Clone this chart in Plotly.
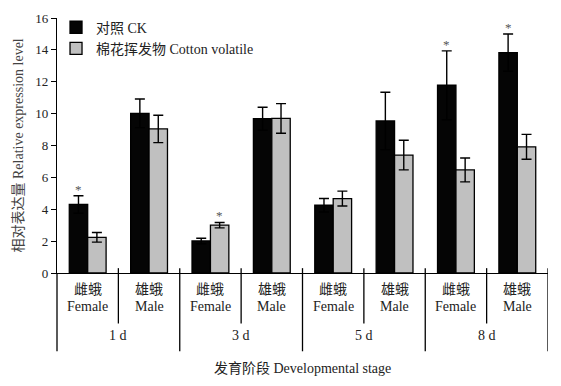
import plotly.graph_objects as go

stages = ["1 d", "3 d", "5 d", "8 d"]
sex_cn = ["雌蛾", "雄蛾"]
sex_en = ["Female", "Male"]
series_names = ["对照 CK", "棉花挥发物 Cotton volatile"]

ck_vals = [4.3, 10.02, 2.01, 9.68, 4.25, 9.54, 11.78, 13.83]
ck_err = [0.55, 0.9, 0.17, 0.72, 0.42, 1.8, 2.16, 1.17]
cv_vals = [2.24, 9.04, 3.0, 9.7, 4.67, 7.4, 6.47, 7.92]
cv_err = [0.3, 0.86, 0.17, 0.93, 0.47, 0.93, 0.75, 0.78]
ck_sig = [True, False, False, False, False, False, True, True]
cv_sig = [False, False, True, False, False, False, False, False]

yticks = [0, 2, 4, 6, 8, 10, 12, 14, 16]

n = len(ck_vals)
xpos = list(range(n))

FONT = "Liberation Serif, Times New Roman, Noto Sans CJK SC, serif"
TXT = "#222"

fig = go.Figure()
fig.add_trace(go.Bar(
    x=xpos, y=ck_vals, name=series_names[0],
    marker=dict(color="#050505", line=dict(color="black", width=1.3)),
    error_y=dict(type="data", array=ck_err, color="black", thickness=1.4, width=5),
))
fig.add_trace(go.Bar(
    x=xpos, y=cv_vals, name=series_names[1],
    marker=dict(color="#c0c0c0", line=dict(color="black", width=1.3)),
    error_y=dict(type="data", array=cv_err, color="black", thickness=1.4, width=5),
))

annotations = []
for i in range(n):
    if ck_sig[i]:
        annotations.append(dict(x=i - 0.15, y=ck_vals[i] + ck_err[i], text="*", showarrow=False,
                                yanchor="bottom", yshift=-3, font=dict(size=13, color="#555", family=FONT)))
    if cv_sig[i]:
        annotations.append(dict(x=i + 0.15, y=cv_vals[i] + cv_err[i], text="*", showarrow=False,
                                yanchor="bottom", yshift=-3, font=dict(size=13, color="#555", family=FONT)))

# category labels
for i in range(n):
    s = i % 2
    annotations.append(dict(x=i, y=-0.065, xref="x", yref="paper", text=sex_cn[s], showarrow=False,
                            yanchor="middle", font=dict(size=14, color=TXT, family=FONT)))
    annotations.append(dict(x=i, y=-0.13, xref="x", yref="paper", text=sex_en[s], showarrow=False,
                            yanchor="middle", font=dict(size=14, color=TXT, family=FONT)))
for j, st in enumerate(stages):
    annotations.append(dict(x=2 * j + 0.5, y=-0.245, xref="x", yref="paper", text=st, showarrow=False,
                            yanchor="middle", font=dict(size=14, color=TXT, family=FONT)))

annotations.append(dict(x=0.5, y=-0.375, xref="paper", yref="paper", text="发育阶段 Developmental stage",
                        showarrow=False, yanchor="middle", font=dict(size=14, color=TXT, family=FONT)))
annotations.append(dict(x=-0.0774, y=0.5, xref="paper", yref="paper", text="相对表达量 Relative expression level",
                        showarrow=False, textangle=-90, xanchor="center", yanchor="middle",
                        font=dict(size=14, color="#444", family=FONT)))

shapes = []
shapes.append(dict(type="line", xref="paper", yref="paper", x0=0, x1=0, y0=0, y1=-0.307,
                   line=dict(color="black", width=1.3)))
for k in range(n):
    xb = k + 0.5
    long = (k % 2 == 1)
    shapes.append(dict(type="line", xref="x", yref="paper", x0=xb, x1=xb,
                       y0=0.019, y1=-0.307 if long else -0.198,
                       line=dict(color="black", width=1.3)))

fig.update_layout(
    width=561, height=386,
    margin=dict(l=57, r=13, t=16, b=113),
    paper_bgcolor="white", plot_bgcolor="white",
    barmode="group", bargap=0.4, bargroupgap=0,
    font=dict(family=FONT, size=14, color=TXT),
    showlegend=True,
    legend=dict(x=-0.002, y=1.025, xanchor="left", yanchor="top", bgcolor="rgba(0,0,0,0)",
                font=dict(size=14, family=FONT, color=TXT), tracegroupgap=0, itemwidth=30),
    annotations=annotations,
    shapes=shapes,
)
fig.update_xaxes(range=[-0.5, n - 0.5], showticklabels=False, ticks="", showline=True,
                 linecolor="black", linewidth=1.3, showgrid=False, zeroline=False)
fig.update_yaxes(range=[0, 16], tickvals=yticks, ticks="outside", ticklen=5, tickwidth=1.3,
                 tickcolor="black", showline=True, linecolor="black", linewidth=1.3,
                 showgrid=False, zeroline=False, tickfont=dict(size=13, family=FONT, color=TXT))

fig.write_html("out.html", config={"displayModeBar": False},
               post_script="document.body.style.margin='0';document.body.style.overflow='hidden';")
